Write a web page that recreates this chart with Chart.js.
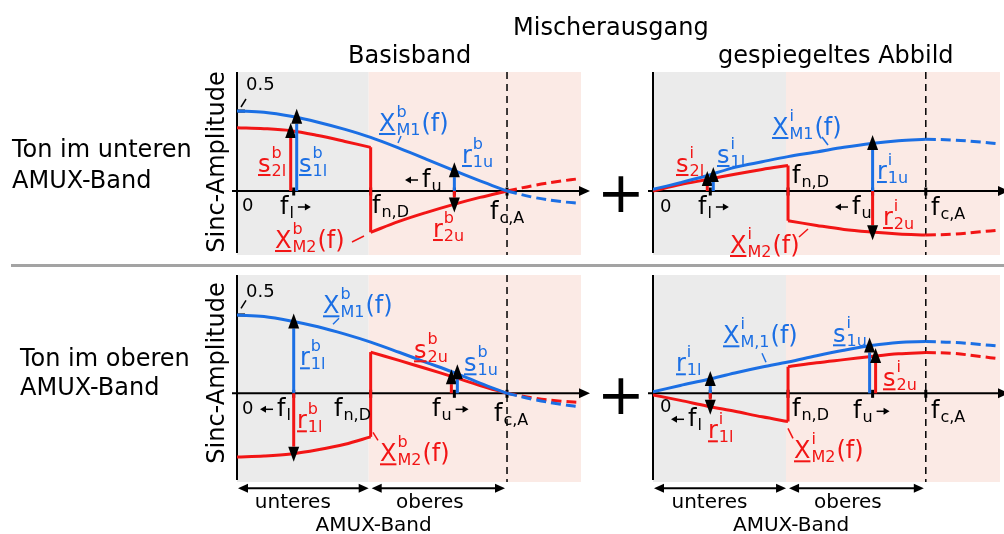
<!DOCTYPE html>
<html>
<head>
<meta charset="utf-8">
<script src="https://cdn.jsdelivr.net/npm/chart.js@4.4.1/dist/chart.umd.min.js"></script>
<style>
  html, body { margin: 0; padding: 0; background: #ffffff; }
  #stage { position: relative; width: 1004px; height: 534px; overflow: hidden; }
  #stage canvas { position: absolute; left: 0; top: 0; }
</style>
</head>
<body>
<div id="stage"></div>
<script>
// ---- frequency grid, normalised so that f_c,A = 1 ----
const fLow  = [0, 0.1, 0.2, 0.3, 0.4, 0.495];   // lower AMUX band (0 .. f_n,D)
const fHigh = [0.495, 0.6, 0.7, 0.8, 0.9, 1.0]; // upper AMUX band (f_n,D .. f_c,A)
const fExt  = [1.0, 1.1, 1.2, 1.272];           // beyond f_c,A (dashed)
const fnD = 0.495, fcA = 1.0, fL = 0.21, fU = 0.805;

// ---- tone in lower AMUX band: baseband ----
const tlBlueLow  = [0.50, 0.492, 0.467, 0.43, 0.385, 0.335];
const tlBlueHigh = [0.335, 0.268, 0.20, 0.13, 0.063, 0.0];
const tlBlueExt  = [0.0, -0.04, -0.066, -0.077];
const tlRedLow   = [0.396, 0.39, 0.377, 0.347, 0.31, 0.273];
const tlRedHigh  = [-0.258, -0.19, -0.135, -0.085, -0.04, 0.0];
const tlRedExt   = [0.0, 0.035, 0.062, 0.078];
const tlTones    = [0.375, 0.464, 0.13, -0.085];   // s2l, s1l, r1u, r2u

// ---- tone in lower AMUX band: mirrored image ----
const trBlueLow  = [0.01, 0.052, 0.097, 0.148, 0.183, 0.215];
const trBlueHigh = [0.215, 0.244, 0.273, 0.297, 0.314, 0.323];
const trBlueExt  = [0.323, 0.319, 0.306, 0.294];
const trRedLow   = [0.0, 0.04, 0.072, 0.105, 0.135, 0.16];
const trRedHigh  = [-0.186, -0.215, -0.24, -0.256, -0.268, -0.275];
const trRedExt   = [-0.275, -0.27, -0.255, -0.244];
const trTones    = [0.075, 0.10, 0.30, -0.258];    // s2l, s1l, r1u, r2u

// ---- tone in upper AMUX band: baseband ----
const blBlueLow  = [0.50, 0.49, 0.462, 0.425, 0.378, 0.327];
const blBlueHigh = [0.327, 0.262, 0.198, 0.135, 0.065, 0.0];
const blBlueExt  = [0.0, -0.04, -0.07, -0.086];
const blRedLow   = [-0.406, -0.40, -0.387, -0.36, -0.325, -0.278];
const blRedHigh  = [0.263, 0.21, 0.158, 0.105, 0.05, 0.0];
const blRedExt   = [0.0, -0.03, -0.05, -0.058];
const blTones    = [0.459, -0.385, 0.103, 0.135];  // r1l (M1), r1l (M2), s2u, s1u

// ---- tone in upper AMUX band: mirrored image ----
const brBlueLow  = [0.01, 0.05, 0.088, 0.13, 0.168, 0.2];
const brBlueHigh = [0.2, 0.24, 0.275, 0.305, 0.325, 0.33];
const brBlueExt  = [0.33, 0.325, 0.312, 0.30];
const brRedLow   = [-0.01, -0.045, -0.082, -0.115, -0.15, -0.18];
const brRedHigh  = [0.17, 0.195, 0.215, 0.235, 0.252, 0.26];
const brRedExt   = [0.26, 0.255, 0.235, 0.22];
const brTones    = [0.092, -0.085, 0.305, 0.238];  // r1l (M1), r1l (M2), s1u, s2u

// ---- styling ----
const BLUE = '#1b6fe4';
const RED  = '#f21515';
const INK  = '#000000';
const GRAY_BAND = '#ebebeb';
const PINK_BAND = '#fbeae5';
const FONT = '"DejaVu Sans", sans-serif';
const W = 1004, H = 534;

function seriesLine(fs, vs, color, dashed, tension) {
  return {
    data: fs.map((f, i) => ({ x: f, y: vs[i] })),
    borderColor: color,
    borderWidth: 3,
    borderDash: dashed ? [10, 5] : [],
    pointRadius: 0,
    tension: tension,
    fill: false
  };
}

// symbol with stacked super-/subscript, e.g. X^b_M1(f)
function drawSymbol(ctx, x, y, s) {
  ctx.fillStyle = s.c || INK;
  ctx.strokeStyle = s.c || INK;
  ctx.textAlign = 'left';
  ctx.textBaseline = 'alphabetic';
  ctx.font = '24px ' + FONT;
  const mw = ctx.measureText(s.m).width;
  ctx.fillText(s.m, x, y);
  if (s.ul) ctx.fillRect(x, y + 2, mw, 2);
  let sw = 0;
  ctx.font = '16px ' + FONT;
  const sx = x + mw + 1;
  if (s.sup) { ctx.fillText(s.sup, sx, y - 14); sw = Math.max(sw, ctx.measureText(s.sup).width); }
  if (s.sub) { ctx.fillText(s.sub, sx, y + 4); sw = Math.max(sw, ctx.measureText(s.sub).width); }
  let end = sx + sw;
  if (s.tail) {
    ctx.font = '24px ' + FONT;
    ctx.fillText(s.tail, end + 1, y);
    end += 1 + ctx.measureText(s.tail).width;
  }
  return end;
}

function smallArrow(ctx, x1, x2, y) {
  const dir = x2 > x1 ? 1 : -1;
  ctx.strokeStyle = INK; ctx.fillStyle = INK; ctx.lineWidth = 1.5;
  ctx.beginPath(); ctx.moveTo(x1, y); ctx.lineTo(x2 - dir * 5, y); ctx.stroke();
  ctx.beginPath(); ctx.moveTo(x2, y); ctx.lineTo(x2 - dir * 6, y - 3.5); ctx.lineTo(x2 - dir * 6, y + 3.5); ctx.closePath(); ctx.fill();
}

function toneArrow(ctx, px, y0, yv, color) {
  const dir = yv < y0 ? -1 : 1;
  const tip = yv + dir * 8;
  const base = tip - dir * 15;
  ctx.strokeStyle = color; ctx.lineWidth = 3;
  ctx.beginPath(); ctx.moveTo(px, y0); ctx.lineTo(px, base); ctx.stroke();
  ctx.fillStyle = INK;
  ctx.beginPath(); ctx.moveTo(px, tip); ctx.lineTo(px - 5.5, base); ctx.lineTo(px + 5.5, base); ctx.closePath(); ctx.fill();
}

function doubleArrow(ctx, x1, x2, y) {
  ctx.strokeStyle = INK; ctx.fillStyle = INK; ctx.lineWidth = 2;
  ctx.beginPath(); ctx.moveTo(x1 + 6, y); ctx.lineTo(x2 - 6, y); ctx.stroke();
  ctx.beginPath(); ctx.moveTo(x1, y); ctx.lineTo(x1 + 10, y - 4.5); ctx.lineTo(x1 + 10, y + 4.5); ctx.closePath(); ctx.fill();
  ctx.beginPath(); ctx.moveTo(x2, y); ctx.lineTo(x2 - 10, y - 4.5); ctx.lineTo(x2 - 10, y + 4.5); ctx.closePath(); ctx.fill();
}

function panelPlugin(p) {
  return {
    id: 'panel_' + p.id,
    beforeDatasetsDraw(chart) {
      const ctx = chart.ctx, xs = chart.scales.x, ys = chart.scales.y;
      const X = v => xs.getPixelForValue(v), Y = v => ys.getPixelForValue(v);
      const a = chart.chartArea;
      const ox = X(0), oy = Y(0);
      ctx.save();
      // band shading
      ctx.fillStyle = GRAY_BAND; ctx.fillRect(a.left, a.top, X(fnD) - 2 - a.left, a.bottom - a.top);
      ctx.fillStyle = PINK_BAND; ctx.fillRect(X(fnD) - 2, a.top, a.right - X(fnD) + 2, a.bottom - a.top);
      // dashed marker at f_c,A
      ctx.strokeStyle = INK; ctx.lineWidth = 1.5; ctx.setLineDash([7, 5]);
      ctx.beginPath(); ctx.moveTo(X(fcA), a.top); ctx.lineTo(X(fcA), a.bottom); ctx.stroke();
      ctx.setLineDash([]);
      // amplitude axis
      ctx.lineWidth = 2;
      ctx.beginPath(); ctx.moveTo(ox, a.top); ctx.lineTo(ox, a.bottom - 2); ctx.stroke();
      // frequency axis with arrow
      const tipX = a.right + 9;
      ctx.beginPath(); ctx.moveTo(ox - 5, oy); ctx.lineTo(tipX - 8, oy); ctx.stroke();
      ctx.fillStyle = INK;
      ctx.beginPath(); ctx.moveTo(tipX, oy); ctx.lineTo(tipX - 11, oy - 5); ctx.lineTo(tipX - 11, oy + 5); ctx.closePath(); ctx.fill();
      // ticks
      [fL, fnD, fU, fcA].forEach(f => ctx.fillRect(X(f) - 1.5, oy - 3.5, 3, 8));
      if (p.halfTick) ctx.fillRect(ox - 1, Y(0.5) - 1.5, 9, 3);
      ctx.restore();
    },
    afterDatasetsDraw(chart) {
      const ctx = chart.ctx, xs = chart.scales.x, ys = chart.scales.y;
      const X = v => xs.getPixelForValue(v), Y = v => ys.getPixelForValue(v);
      const ox = X(0), oy = Y(0);
      ctx.save();
      // tone arrows
      p.arrows.forEach((ar, i) => toneArrow(ctx, X(ar.f) + ar.shift, oy, Y(p.tones[i]), ar.c));
      // labels
      p.labels.forEach(l => {
        const x = ox + l.dx, y = oy + l.dy;
        if (l.lead) {
          ctx.strokeStyle = l.c || INK; ctx.lineWidth = 1.5;
          ctx.beginPath(); ctx.moveTo(ox + l.lead[0], oy + l.lead[1]); ctx.lineTo(ox + l.lead[2], oy + l.lead[3]); ctx.stroke();
        }
        if (l.text) {
          ctx.fillStyle = INK; ctx.textAlign = 'left'; ctx.textBaseline = 'alphabetic';
          ctx.font = '18px ' + FONT;
          ctx.fillText(l.text, x, y);
          return;
        }
        const end = drawSymbol(ctx, x, y, l);
        if (l.arrow === 'right') smallArrow(ctx, end + 4, end + 17, y - 7);
        if (l.arrow === 'left') smallArrow(ctx, x - 4, x - 17, y - 7);
      });
      // vertical axis title
      if (p.yTitle) {
        ctx.fillStyle = INK; ctx.font = '24px ' + FONT;
        ctx.translate(ox - 13, p.yTitle);
        ctx.rotate(-Math.PI / 2);
        ctx.textAlign = 'center'; ctx.textBaseline = 'alphabetic';
        ctx.fillText('Sinc-Amplitude', 0, 0);
        ctx.setTransform(1, 0, 0, 1, 0, 0);
      }
      // plus sign between baseband and image
      if (p.plus) {
        ctx.fillStyle = INK; ctx.font = '57px ' + FONT;
        ctx.textAlign = 'center'; ctx.textBaseline = 'alphabetic';
        ctx.fillText('+', ox - 32, oy + 21);
      }
      // AMUX band ranges
      if (p.bands) {
        const yb = oy + 95;
        doubleArrow(ctx, ox + 1, X(fnD) - 2, yb);
        doubleArrow(ctx, X(fnD) + 1, X(fcA) - 2, yb);
        ctx.fillStyle = INK; ctx.font = '20px ' + FONT;
        ctx.textAlign = 'center'; ctx.textBaseline = 'alphabetic';
        ctx.fillText('unteres', (ox + X(fnD)) / 2 - 11, oy + 115);
        ctx.fillText('oberes', (X(fnD) + X(fcA)) / 2 - 9, oy + 115);
        ctx.fillText('AMUX-Band', X(fnD) + 3, oy + 138);
      }
      ctx.restore();
    },
    afterDraw(chart) {
      if (!p.page) return;
      const ctx = chart.ctx;
      ctx.save();
      ctx.fillStyle = INK; ctx.font = '24px ' + FONT;
      ctx.textAlign = 'left'; ctx.textBaseline = 'alphabetic';
      ctx.fillText('Mischerausgang', 513, 35);
      ctx.fillText('Basisband', 348, 63);
      ctx.fillText('gespiegeltes Abbild', 718, 63);
      ctx.fillText('Ton im unteren', 12, 157);
      ctx.fillText('AMUX-Band', 12, 188);
      ctx.fillText('Ton im oberen', 20, 366);
      ctx.fillText('AMUX-Band', 20, 395);
      ctx.fillStyle = '#a3a3a3';
      ctx.fillRect(11, 264, W - 11, 3);
      ctx.restore();
    }
  };
}

function makePanel(p) {
  const cv = document.createElement('canvas');
  cv.width = W; cv.height = H;
  document.getElementById('stage').appendChild(cv);
  const ds = [
    seriesLine(fLow.concat(fHigh.slice(1)), p.blueLow.concat(p.blueHigh.slice(1)), BLUE, false, 0.35),
    seriesLine(fExt, p.blueExt, BLUE, true, 0.35),
    seriesLine(fLow, p.redLow, RED, false, 0.35),
    seriesLine([fnD, fnD], [p.redLow[p.redLow.length - 1], p.redHigh[0]], RED, false, 0),
    seriesLine(fHigh, p.redHigh, RED, false, 0.35),
    seriesLine(fExt, p.redExt, RED, true, 0.35)
  ];
  new Chart(cv, {
    type: 'line',
    data: { datasets: ds },
    options: {
      responsive: false,
      animation: false,
      events: [],
      layout: { padding: { left: p.area.l, top: p.area.t, right: W - p.area.r, bottom: H - p.area.b } },
      plugins: { legend: { display: false }, tooltip: { enabled: false } },
      scales: {
        x: { type: 'linear', min: 0, max: p.xMax, display: false },
        y: { type: 'linear', min: p.yMin, max: p.yMax, display: false }
      }
    },
    plugins: [panelPlugin(p)]
  });
}

const sym = (m, sup, sub, c, extra) => Object.assign({ m, sup, sub, c, ul: true }, extra || {});
const fq = (sub, extra) => Object.assign({ m: 'f', sub }, extra || {});

// tone in lower band, baseband
makePanel({
  id: 'tl', page: true, halfTick: true, yTitle: 162,
  area: { l: 237, r: 581, t: 72, b: 255 }, xMax: 1.274, yMin: -0.4, yMax: 0.744,
  blueLow: tlBlueLow, blueHigh: tlBlueHigh, blueExt: tlBlueExt,
  redLow: tlRedLow, redHigh: tlRedHigh, redExt: tlRedExt,
  tones: tlTones,
  arrows: [{ f: fL, shift: -3, c: RED }, { f: fL, shift: 3, c: BLUE }, { f: fU, shift: 0, c: BLUE }, { f: fU, shift: 0, c: RED }],
  labels: [
    sym('X', 'b', 'M1', BLUE, { dx: 142, dy: -60, tail: '(f)', lead: [161, -48, 164, -55] }),
    sym('s', 'b', '2l', RED, { dx: 21, dy: -19 }),
    sym('s', 'b', '1l', BLUE, { dx: 62, dy: -19 }),
    sym('r', 'b', '1u', BLUE, { dx: 225, dy: -28 }),
    sym('r', 'b', '2u', RED, { dx: 196, dy: 46 }),
    sym('X', 'b', 'M2', RED, { dx: 38, dy: 57, tail: '(f)', lead: [115, 51, 127, 45] }),
    { text: '0.5', dx: 9, dy: -101, lead: [4, -84, 9, -92] },
    { text: '0', dx: 5, dy: 20 },
    fq('l', { dx: 43, dy: 23, arrow: 'right' }),
    fq('u', { dx: 185, dy: -4, arrow: 'left' }),
    fq('n,D', { dx: 135, dy: 22 }),
    fq('c,A', { dx: 253, dy: 28 })
  ]
});

// tone in lower band, mirrored image
makePanel({
  id: 'tr', plus: true,
  area: { l: 653, r: 1000, t: 72, b: 255 }, xMax: 1.272, yMin: -0.4, yMax: 0.744,
  blueLow: trBlueLow, blueHigh: trBlueHigh, blueExt: trBlueExt,
  redLow: trRedLow, redHigh: trRedHigh, redExt: trRedExt,
  tones: trTones,
  arrows: [{ f: fL, shift: -3, c: RED }, { f: fL, shift: 3, c: BLUE }, { f: fU, shift: 0, c: BLUE }, { f: fU, shift: 0, c: RED }],
  labels: [
    sym('X', 'i', 'M1', BLUE, { dx: 119, dy: -56, tail: '(f)', lead: [169, -54, 175, -46] }),
    sym('s', 'i', '2l', RED, { dx: 23, dy: -19 }),
    sym('s', 'i', '1l', BLUE, { dx: 64, dy: -28 }),
    sym('r', 'i', '1u', BLUE, { dx: 224, dy: -12 }),
    sym('r', 'i', '2u', RED, { dx: 230, dy: 34 }),
    sym('X', 'i', 'M2', RED, { dx: 77, dy: 62, tail: '(f)', lead: [146, 46, 155, 38] }),
    { text: '0', dx: 7, dy: 21 },
    fq('l', { dx: 45, dy: 23, arrow: 'right' }),
    fq('n,D', { dx: 139, dy: -8 }),
    fq('u', { dx: 199, dy: 23, arrow: 'left' }),
    fq('c,A', { dx: 278, dy: 24 })
  ]
});

// tone in upper band, baseband
makePanel({
  id: 'bl', halfTick: true, yTitle: 373, bands: true,
  area: { l: 237, r: 581, t: 275, b: 482 }, xMax: 1.274, yMin: -0.566, yMax: 0.755,
  blueLow: blBlueLow, blueHigh: blBlueHigh, blueExt: blBlueExt,
  redLow: blRedLow, redHigh: blRedHigh, redExt: blRedExt,
  tones: blTones,
  arrows: [{ f: fL, shift: 0, c: BLUE }, { f: fL, shift: 0, c: RED }, { f: fU, shift: -3, c: RED }, { f: fU, shift: 3, c: BLUE }],
  labels: [
    { text: '0.5', dx: 9, dy: -96, lead: [4, -85, 9, -93] },
    sym('X', 'b', 'M1', BLUE, { dx: 86, dy: -80, tail: '(f)', lead: [96, -69, 102, -75] }),
    sym('r', 'b', '1l', BLUE, { dx: 63, dy: -28 }),
    sym('r', 'b', '1l', RED, { dx: 60, dy: 35 }),
    sym('s', 'b', '2u', RED, { dx: 177, dy: -35 }),
    sym('s', 'b', '1u', BLUE, { dx: 227, dy: -22 }),
    sym('X', 'b', 'M2', RED, { dx: 143, dy: 68, tail: '(f)', lead: [136, 39, 141, 47] }),
    { text: '0', dx: 5, dy: 21 },
    fq('l', { dx: 40, dy: 23, arrow: 'left' }),
    fq('n,D', { dx: 97, dy: 23 }),
    fq('u', { dx: 195, dy: 23, arrow: 'right' }),
    fq('c,A', { dx: 257, dy: 28 })
  ]
});

// tone in upper band, mirrored image
makePanel({
  id: 'br', plus: true, bands: true,
  area: { l: 653, r: 1000, t: 275, b: 482 }, xMax: 1.272, yMin: -0.566, yMax: 0.755,
  blueLow: brBlueLow, blueHigh: brBlueHigh, blueExt: brBlueExt,
  redLow: brRedLow, redHigh: brRedHigh, redExt: brRedExt,
  tones: brTones,
  arrows: [{ f: fL, shift: 0, c: BLUE }, { f: fL, shift: 0, c: RED }, { f: fU, shift: -3, c: BLUE }, { f: fU, shift: 3, c: RED }],
  labels: [
    { text: '0', dx: 7, dy: 19 },
    fq('l', { dx: 35, dy: 33, arrow: 'left' }),
    sym('r', 'i', '1l', RED, { dx: 55, dy: 45 }),
    sym('r', 'i', '1l', BLUE, { dx: 23, dy: -22 }),
    sym('X', 'i', 'M,1', BLUE, { dx: 70, dy: -50, tail: '(f)', lead: [109, -40, 113, -31] }),
    fq('n,D', { dx: 139, dy: 23 }),
    fq('u', { dx: 200, dy: 25, arrow: 'right' }),
    fq('c,A', { dx: 278, dy: 25 }),
    sym('s', 'i', '1u', BLUE, { dx: 180, dy: -51 }),
    sym('s', 'i', '2u', RED, { dx: 230, dy: -7 }),
    sym('X', 'i', 'M2', RED, { dx: 141, dy: 65, tail: '(f)', lead: [135, 35, 140, 45] })
  ]
});
</script>
</body>
</html>
